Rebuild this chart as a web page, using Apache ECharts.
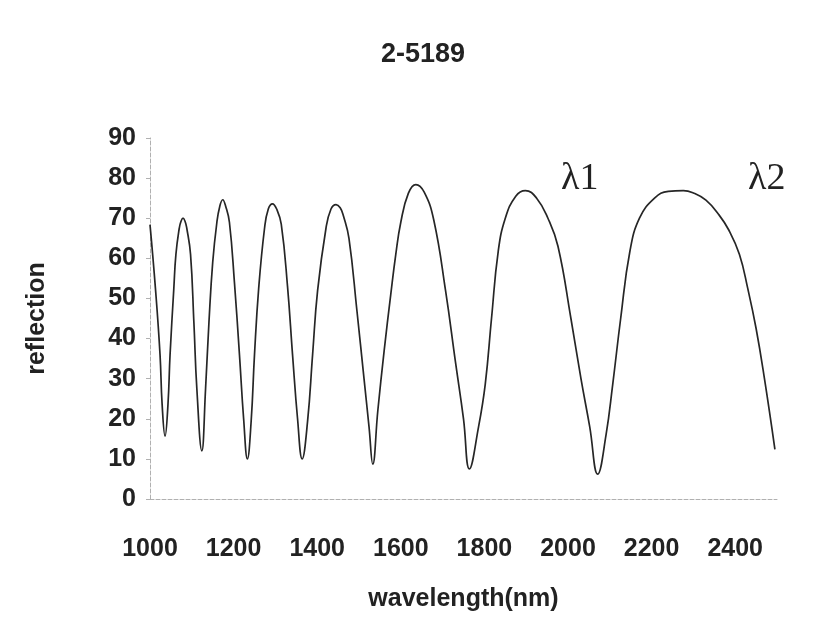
<!DOCTYPE html>
<html>
<head>
<meta charset="utf-8">
<script src="https://cdn.jsdelivr.net/npm/echarts@6/dist/echarts.min.js"></script>
<style>html,body{margin:0;padding:0;background:#fff;}#c{width:819px;height:642px;}</style>
</head>
<body>
<div id="c"></div>
<script>
var chartTitle = '2-5189';
var xName = 'wavelength(nm)';
var yName = 'reflection';
var xTicks = [1000, 1200, 1400, 1600, 1800, 2000, 2200, 2400];
var yTicks = [0, 10, 20, 30, 40, 50, 60, 70, 80, 90];
var wavelength = [1000,1013,1024,1029,1036,1043,1048,1057,1062,1070,1074,1079,1084,1088,1097,1105,1112,1124,1133,1141,1150,1160,1167,1174,1181,1190,1202,1214,1224,1233,1242,1250,1260,1274,1283,1293,1303,1314,1329,1341,1353,1364,1377,1389,1401,1421,1433,1445,1455,1463,1476,1495,1512,1524,1533,1545,1560,1576,1588,1600,1618,1636,1656,1679,1707,1731,1750,1764,1786,1802,1817,1833,1850,1875,1898,1925,1952,1976,2007,2031,2052,2071,2091,2107,2126,2148,2171,2207,2240,2276,2300,2330,2360,2385,2410,2430,2450,2470,2495];
var reflection = [68.4,52.5,36,23.6,15.7,23.6,36,52.5,61,67.5,69.2,70,69.2,67.5,61,44,27.6,12,27.6,44,59,69,73,74.6,73,69,54,36,20,10,19.4,36,52.5,67.5,72.3,73.6,72.3,68.5,53,36,20,10,19.4,36,52,67.5,72.3,73.4,72.6,70.5,65,47,30,18,8.7,22,36.8,51,61,69,76.2,78.4,76.5,69.5,52,34,20,7.5,18,28.6,45,61.7,70,75.5,76.9,75,70,63,45,30,18,6.2,16,28.6,45,61.7,70,75,76.7,76.9,76.3,74.5,71,67,61,52.5,42.5,30,12.4];
var lambdaLabels = ['\u03bb1', '\u03bb2'];

var seriesData = wavelength.map(function (w, i) { return [w, reflection[i]]; });
var chart = echarts.init(document.getElementById('c'), null, {renderer: 'canvas'});
var boldFont = '"Liberation Sans", Arial, sans-serif';
chart.setOption({
  backgroundColor: '#ffffff',
  animation: false,
  title: {
    text: chartTitle,
    left: 418,
    textAlign: 'center',
    top: 36,
    textStyle: {fontFamily: boldFont, fontWeight: 'bold', fontSize: 27, color: '#222'}
  },
  grid: {left: 150, right: 42, top: 138, bottom: 143},
  xAxis: {
    type: 'value',
    min: xTicks[0],
    max: 2500,
    interval: 200,
    name: xName,
    nameLocation: 'middle',
    nameGap: 88,
    nameTextStyle: {fontFamily: boldFont, fontWeight: 'bold', fontSize: 25, color: '#222'},
    axisLine: {show: true, lineStyle: {color: '#b0b0b0', type: 'dashed', width: 1}},
    axisTick: {show: false},
    splitLine: {show: false},
    axisLabel: {
      showMaxLabel: false,
      margin: 38,
      fontFamily: boldFont, fontWeight: 'bold', fontSize: 25, color: '#222',
      formatter: function (v) { return xTicks.indexOf(v) >= 0 ? String(v) : ''; }
    }
  },
  yAxis: {
    type: 'value',
    min: yTicks[0],
    max: yTicks[yTicks.length - 1],
    interval: 10,
    name: yName,
    nameLocation: 'middle',
    nameGap: 100,
    nameTextStyle: {fontFamily: boldFont, fontWeight: 'bold', fontSize: 25, color: '#222'},
    axisLine: {show: true, lineStyle: {color: '#b0b0b0', type: 'dashed', width: 1}},
    axisTick: {show: true, length: 4, lineStyle: {color: '#b0b0b0'}},
    splitLine: {show: false},
    axisLabel: {margin: 14, fontFamily: boldFont, fontWeight: 'bold', fontSize: 25, color: '#222'}
  },
  graphic: [
    {type: 'text', left: 561, top: 160, style: {text: lambdaLabels[0], font: '38px "Liberation Serif", "Times New Roman", serif', fill: '#222'}},
    {type: 'text', left: 748, top: 160, style: {text: lambdaLabels[1], font: '38px "Liberation Serif", "Times New Roman", serif', fill: '#222'}}
  ],
  series: [{
    type: 'line',
    data: seriesData,
    smooth: 0.45,
    symbol: 'none',
    lineStyle: {color: '#262626', width: 1.7}
  }]
});
</script>
</body>
</html>
